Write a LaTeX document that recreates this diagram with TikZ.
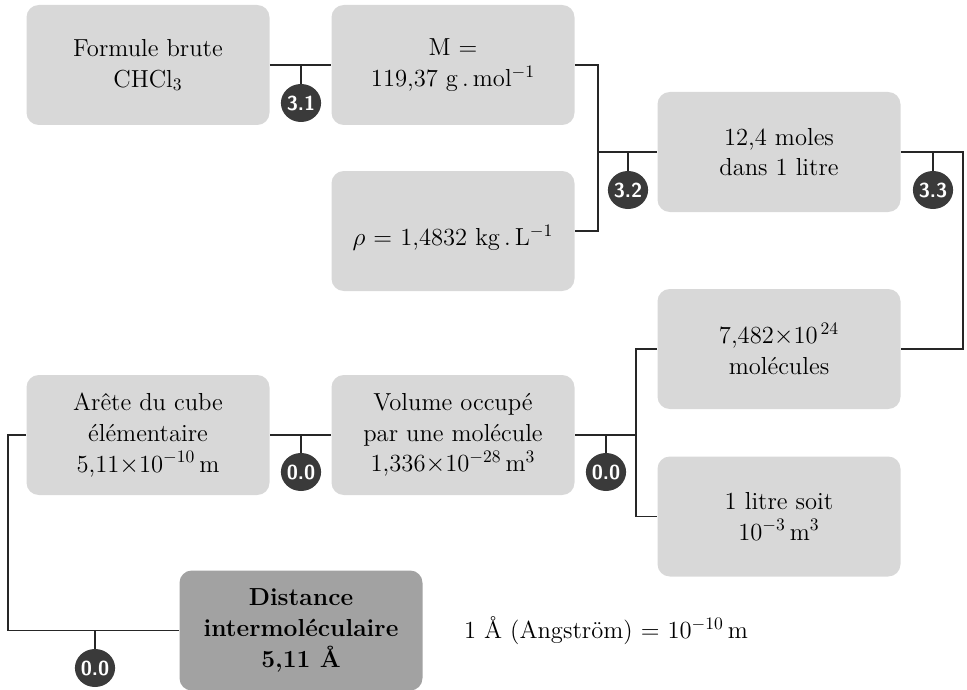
\documentclass[tikz,border=0pt]{standalone}
\usepackage{tikz}

\definecolor{boxgray}{HTML}{D8D8D8}
\definecolor{resgray}{HTML}{A2A2A2}
\definecolor{tagdark}{HTML}{3A3A3A}

\tikzset{
  databox/.style={fill=boxgray, rounded corners=7pt, align=center,
    minimum width=4.86cm, minimum height=2.4cm, inner sep=2pt,
    font=\fontsize{14}{17.5}\selectfont},
  resultbox/.style={databox, fill=resgray, font=\fontsize{14}{17.5}\selectfont\bfseries},
  tagball/.style={ellipse, fill=tagdark, text=white, inner sep=0pt,
    minimum width=0.72cm, minimum height=0.76cm,
    font=\sffamily\bfseries\fontsize{11.5}{12}\selectfont},
  link/.style={line width=0.8pt, draw=black!85}
}
\usetikzlibrary{shapes.geometric}

\begin{document}
\begin{tikzpicture}
\useasboundingbox (0,0) rectangle (19.34,-13.8);

\node[databox] (formule) at (2.96,-1.30) {Formule brute\\CHCl$_3$};
\node[databox] (masse) at (9.06,-1.30) {M =\\119,37 g\,.\,mol$^{-1}$};
\node[databox] (rho) at (9.06,-4.62) {\\[2pt]$\rho$ = 1,4832 kg\,.\,L$^{-1}$};
\node[databox] (moles) at (15.58,-3.04) {12,4 moles\\dans 1 litre};
\node[databox] (molecules) at (15.58,-6.98) {7,482$\times$10$^{\,24}$\\molécules};
\node[databox] (litre) at (15.58,-10.33) {1 litre soit\\10$^{-3}$\,m$^3$};
\node[databox] (arete) at (2.96,-8.70) {Arête du cube\\élémentaire\\5,11$\times$10$^{-10}$\,m};
\node[databox] (volume) at (9.06,-8.70) {Volume occupé\\par une molécule\\1,336$\times$10$^{-28}$\,m$^3$};
\node[resultbox] (distance) at (6.02,-12.61) {Distance\\intermoléculaire\\5,11 Å};
\node[font=\fontsize{14}{16}\selectfont] (note) at (12.12,-12.62) {1 Å (Angström) = 10$^{-10}$\,m};

% junctions and bends
\coordinate (fork1) at (11.96,-3.04);
\coordinate (bend33) at (19.26,-3.04);
\coordinate (fork3) at (12.72,-8.70);
\coordinate (bend00) at (0.16,-8.70);

\draw[link] (formule.east) -- (masse.west);
\draw[link] (masse.east) -| (fork1) |- (rho.east);
\draw[link] (fork1) -- (moles.west);
\draw[link] (moles.east) -- (bend33) |- (molecules.east);
\draw[link] (molecules.west) -| (fork3) |- (litre.west);
\draw[link] (fork3) -- (volume.east);
\draw[link] (volume.west) -- (arete.east);
\draw[link] (arete.west) -- (bend00) |- (distance.west);

% step tags hanging from the lines
\node[tagball] (t31) at (6.02,-2.06) {3.1};
\node[tagball] (t32) at (12.56,-3.80) {3.2};
\node[tagball] (t33) at (18.66,-3.80) {3.3};
\node[tagball] (t00a) at (12.12,-9.44) {0.0};
\node[tagball] (t00b) at (6.02,-9.44) {0.0};
\node[tagball] (t00c) at (1.90,-13.36) {0.0};

\draw[link] (t31.north) -- (t31.north |- formule.east);
\draw[link] (t32.north) -- (t32.north |- moles.west);
\draw[link] (t33.north) -- (t33.north |- moles.east);
\draw[link] (t00a.north) -- (t00a.north |- volume.east);
\draw[link] (t00b.north) -- (t00b.north |- volume.west);
\draw[link] (t00c.north) -- (t00c.north |- distance.west);
\end{tikzpicture}
\end{document}
